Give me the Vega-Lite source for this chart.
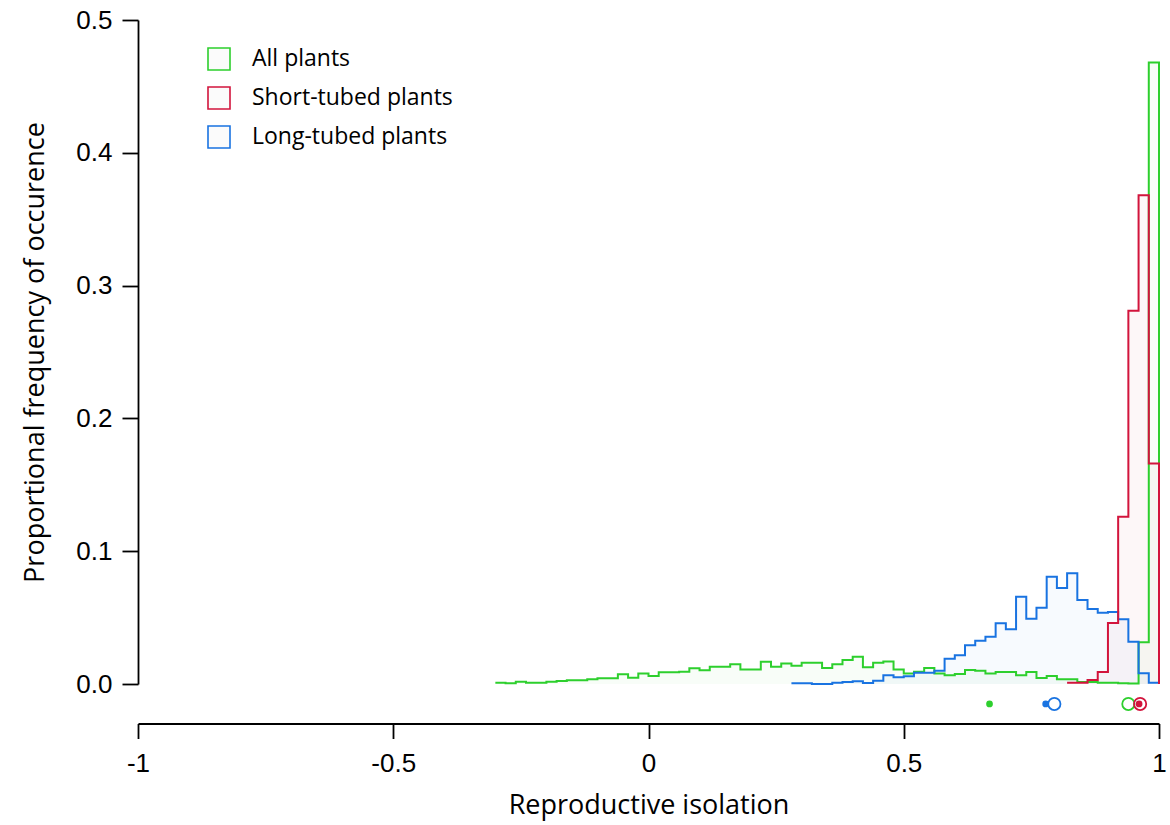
{
  "$schema": "https://vega.github.io/schema/vega-lite/v6.json",
  "width": 1021,
  "height": 664,
  "autosize": {"type": "none"},
  "padding": {"left": 138, "top": 20, "right": 11, "bottom": 141},
  "background": "white",
  "config": {
    "view": {"stroke": null},
    "axis": {"grid": false, "domainColor": "black", "tickColor": "black", "labelColor": "black", "titleColor": "black", "domainWidth": 1.8, "tickWidth": 1.8, "labelFont": "Liberation Sans", "labelFontSize": 26, "titleFont": "Open Sans", "titleFontSize": 27, "titleFontWeight": "normal"}
  },
  "datasets": {
    "hist": [
      {"group": "All plants", "x": -0.30, "y": 0.001},
      {"group": "All plants", "x": -0.28, "y": 0.0005},
      {"group": "All plants", "x": -0.26, "y": 0.0017},
      {"group": "All plants", "x": -0.24, "y": 0.001},
      {"group": "All plants", "x": -0.22, "y": 0.001},
      {"group": "All plants", "x": -0.20, "y": 0.0017},
      {"group": "All plants", "x": -0.18, "y": 0.0023},
      {"group": "All plants", "x": -0.16, "y": 0.0028},
      {"group": "All plants", "x": -0.14, "y": 0.0028},
      {"group": "All plants", "x": -0.12, "y": 0.0035},
      {"group": "All plants", "x": -0.10, "y": 0.0043},
      {"group": "All plants", "x": -0.08, "y": 0.0043},
      {"group": "All plants", "x": -0.06, "y": 0.0073},
      {"group": "All plants", "x": -0.04, "y": 0.0048},
      {"group": "All plants", "x": -0.02, "y": 0.008},
      {"group": "All plants", "x": 0.00, "y": 0.006},
      {"group": "All plants", "x": 0.02, "y": 0.0088},
      {"group": "All plants", "x": 0.04, "y": 0.0088},
      {"group": "All plants", "x": 0.06, "y": 0.0093},
      {"group": "All plants", "x": 0.08, "y": 0.0118},
      {"group": "All plants", "x": 0.10, "y": 0.0103},
      {"group": "All plants", "x": 0.12, "y": 0.013},
      {"group": "All plants", "x": 0.14, "y": 0.013},
      {"group": "All plants", "x": 0.16, "y": 0.0148},
      {"group": "All plants", "x": 0.18, "y": 0.011},
      {"group": "All plants", "x": 0.20, "y": 0.011},
      {"group": "All plants", "x": 0.22, "y": 0.0168},
      {"group": "All plants", "x": 0.24, "y": 0.013},
      {"group": "All plants", "x": 0.26, "y": 0.0155},
      {"group": "All plants", "x": 0.28, "y": 0.0138},
      {"group": "All plants", "x": 0.30, "y": 0.016},
      {"group": "All plants", "x": 0.32, "y": 0.016},
      {"group": "All plants", "x": 0.34, "y": 0.012},
      {"group": "All plants", "x": 0.36, "y": 0.0148},
      {"group": "All plants", "x": 0.38, "y": 0.018},
      {"group": "All plants", "x": 0.40, "y": 0.0206},
      {"group": "All plants", "x": 0.42, "y": 0.0126},
      {"group": "All plants", "x": 0.44, "y": 0.016},
      {"group": "All plants", "x": 0.46, "y": 0.017},
      {"group": "All plants", "x": 0.48, "y": 0.011},
      {"group": "All plants", "x": 0.50, "y": 0.008},
      {"group": "All plants", "x": 0.52, "y": 0.0093},
      {"group": "All plants", "x": 0.54, "y": 0.012},
      {"group": "All plants", "x": 0.56, "y": 0.008},
      {"group": "All plants", "x": 0.58, "y": 0.0065},
      {"group": "All plants", "x": 0.60, "y": 0.0075},
      {"group": "All plants", "x": 0.62, "y": 0.0105},
      {"group": "All plants", "x": 0.64, "y": 0.010},
      {"group": "All plants", "x": 0.66, "y": 0.008},
      {"group": "All plants", "x": 0.68, "y": 0.009},
      {"group": "All plants", "x": 0.70, "y": 0.009},
      {"group": "All plants", "x": 0.72, "y": 0.0065},
      {"group": "All plants", "x": 0.74, "y": 0.009},
      {"group": "All plants", "x": 0.76, "y": 0.0045},
      {"group": "All plants", "x": 0.78, "y": 0.006},
      {"group": "All plants", "x": 0.80, "y": 0.0035},
      {"group": "All plants", "x": 0.82, "y": 0.0035},
      {"group": "All plants", "x": 0.84, "y": 0.0015},
      {"group": "All plants", "x": 0.86, "y": 0.0015},
      {"group": "All plants", "x": 0.88, "y": 0.001},
      {"group": "All plants", "x": 0.90, "y": 0.001},
      {"group": "All plants", "x": 0.92, "y": 0.0005},
      {"group": "All plants", "x": 0.94, "y": 0.0003},
      {"group": "All plants", "x": 0.96, "y": 0.0314},
      {"group": "All plants", "x": 0.98, "y": 0.468},
      {"group": "All plants", "x": 1.00, "y": 0},
      {"group": "Long-tubed plants", "x": 0.28, "y": 0.0005},
      {"group": "Long-tubed plants", "x": 0.30, "y": 0.0005},
      {"group": "Long-tubed plants", "x": 0.32, "y": 0},
      {"group": "Long-tubed plants", "x": 0.34, "y": 0},
      {"group": "Long-tubed plants", "x": 0.36, "y": 0.001},
      {"group": "Long-tubed plants", "x": 0.38, "y": 0.0015},
      {"group": "Long-tubed plants", "x": 0.40, "y": 0.002},
      {"group": "Long-tubed plants", "x": 0.42, "y": 0.0008},
      {"group": "Long-tubed plants", "x": 0.44, "y": 0.0025},
      {"group": "Long-tubed plants", "x": 0.46, "y": 0.0065},
      {"group": "Long-tubed plants", "x": 0.48, "y": 0.005},
      {"group": "Long-tubed plants", "x": 0.50, "y": 0.0058},
      {"group": "Long-tubed plants", "x": 0.52, "y": 0.0085},
      {"group": "Long-tubed plants", "x": 0.54, "y": 0.0085},
      {"group": "Long-tubed plants", "x": 0.56, "y": 0.010},
      {"group": "Long-tubed plants", "x": 0.58, "y": 0.019},
      {"group": "Long-tubed plants", "x": 0.60, "y": 0.0216},
      {"group": "Long-tubed plants", "x": 0.62, "y": 0.0291},
      {"group": "Long-tubed plants", "x": 0.64, "y": 0.0326},
      {"group": "Long-tubed plants", "x": 0.66, "y": 0.0356},
      {"group": "Long-tubed plants", "x": 0.68, "y": 0.0457},
      {"group": "Long-tubed plants", "x": 0.70, "y": 0.0412},
      {"group": "Long-tubed plants", "x": 0.72, "y": 0.0657},
      {"group": "Long-tubed plants", "x": 0.74, "y": 0.0491},
      {"group": "Long-tubed plants", "x": 0.76, "y": 0.0575},
      {"group": "Long-tubed plants", "x": 0.78, "y": 0.0808},
      {"group": "Long-tubed plants", "x": 0.80, "y": 0.0723},
      {"group": "Long-tubed plants", "x": 0.82, "y": 0.0834},
      {"group": "Long-tubed plants", "x": 0.84, "y": 0.0633},
      {"group": "Long-tubed plants", "x": 0.86, "y": 0.0565},
      {"group": "Long-tubed plants", "x": 0.88, "y": 0.0537},
      {"group": "Long-tubed plants", "x": 0.90, "y": 0.0542},
      {"group": "Long-tubed plants", "x": 0.92, "y": 0.0487},
      {"group": "Long-tubed plants", "x": 0.94, "y": 0.0319},
      {"group": "Long-tubed plants", "x": 0.96, "y": 0.0081},
      {"group": "Long-tubed plants", "x": 0.98, "y": 0.001},
      {"group": "Long-tubed plants", "x": 1.00, "y": 0},
      {"group": "Short-tubed plants", "x": 0.82, "y": 0.001},
      {"group": "Short-tubed plants", "x": 0.84, "y": 0.001},
      {"group": "Short-tubed plants", "x": 0.86, "y": 0.003},
      {"group": "Short-tubed plants", "x": 0.88, "y": 0.009},
      {"group": "Short-tubed plants", "x": 0.90, "y": 0.046},
      {"group": "Short-tubed plants", "x": 0.92, "y": 0.126},
      {"group": "Short-tubed plants", "x": 0.94, "y": 0.281},
      {"group": "Short-tubed plants", "x": 0.96, "y": 0.368},
      {"group": "Short-tubed plants", "x": 0.98, "y": 0.166},
      {"group": "Short-tubed plants", "x": 1.00, "y": 0}
    ],
    "summary": [
      {"group": "All plants", "stat": "filled", "x": 0.668, "y": -0.015},
      {"group": "All plants", "stat": "open", "x": 0.940, "y": -0.015},
      {"group": "Long-tubed plants", "stat": "filled", "x": 0.778, "y": -0.015},
      {"group": "Long-tubed plants", "stat": "open", "x": 0.795, "y": -0.015},
      {"group": "Short-tubed plants", "stat": "open", "x": 0.963, "y": -0.015},
      {"group": "Short-tubed plants", "stat": "filled", "x": 0.961, "y": -0.015}
    ]
  },
  "layer": [
    {
      "mark": {"type": "rule", "color": "#d4d4d4", "strokeWidth": 1.6},
      "encoding": {
        "x": {"datum": -1, "type": "quantitative"},
        "x2": {"datum": 1},
        "y": {"datum": 0, "type": "quantitative"}
      }
    },
    {
      "data": {"name": "hist"},
      "mark": {"type": "area", "interpolate": "step-after", "fillOpacity": 0.035},
      "encoding": {
        "x": {"field": "x", "type": "quantitative", "scale": {"domain": [-1, 1], "nice": false, "zero": false},
          "axis": {"title": "Reproductive isolation", "values": [-1, -0.5, 0, 0.5, 1], "labelExpr": "'' + datum.value", "offset": 39.5, "tickSize": 15, "labelPadding": 12, "titlePadding": 16, "labelFlush": false}},
        "y": {"field": "y", "type": "quantitative", "stack": null, "scale": {"domain": [0, 0.5], "nice": false},
          "axis": {"title": "Proportional frequency of occurence", "values": [0, 0.1, 0.2, 0.3, 0.4, 0.5], "format": ".1f", "tickSize": 16, "labelPadding": 10, "titlePadding": 26}},
        "fill": {"field": "group", "type": "nominal", "scale": {"domain": ["All plants", "Long-tubed plants", "Short-tubed plants"], "range": ["#2dcf2d", "#1973e1", "#d2143c"]}, "legend": null}
      }
    },
    {
      "data": {"name": "hist"},
      "mark": {"type": "line", "interpolate": "step-after", "strokeWidth": 2},
      "encoding": {
        "x": {"field": "x", "type": "quantitative"},
        "y": {"field": "y", "type": "quantitative"},
        "stroke": {"field": "group", "type": "nominal", "scale": {"domain": ["All plants", "Short-tubed plants", "Long-tubed plants"], "range": ["#2dcf2d", "#d2143c", "#1973e1"]},
          "legend": {"title": null, "orient": "none", "legendX": 69, "legendY": 27, "symbolType": "square", "symbolSize": 484, "symbolStrokeWidth": 1.6, "symbolFillColor": "#fbfbfb", "labelFont": "Open Sans", "labelFontSize": 23, "labelColor": "black", "labelOffset": 21, "labelLimit": 0, "rowPadding": 9}}
      }
    },
    {
      "data": {"name": "summary"},
      "transform": [{"filter": "datum.stat == 'open'"}],
      "mark": {"type": "point", "filled": false, "size": 150, "strokeWidth": 1.8, "opacity": 1},
      "encoding": {
        "x": {"field": "x", "type": "quantitative"},
        "y": {"field": "y", "type": "quantitative"},
        "color": {"field": "group", "type": "nominal", "scale": {"domain": ["All plants", "Long-tubed plants", "Short-tubed plants"], "range": ["#2dcf2d", "#1973e1", "#d2143c"]}, "legend": null}
      }
    },
    {
      "data": {"name": "summary"},
      "transform": [{"filter": "datum.stat == 'filled'"}],
      "mark": {"type": "point", "filled": true, "size": 45, "opacity": 1},
      "encoding": {
        "x": {"field": "x", "type": "quantitative"},
        "y": {"field": "y", "type": "quantitative"},
        "color": {"field": "group", "type": "nominal", "legend": null}
      }
    }
  ]
}
